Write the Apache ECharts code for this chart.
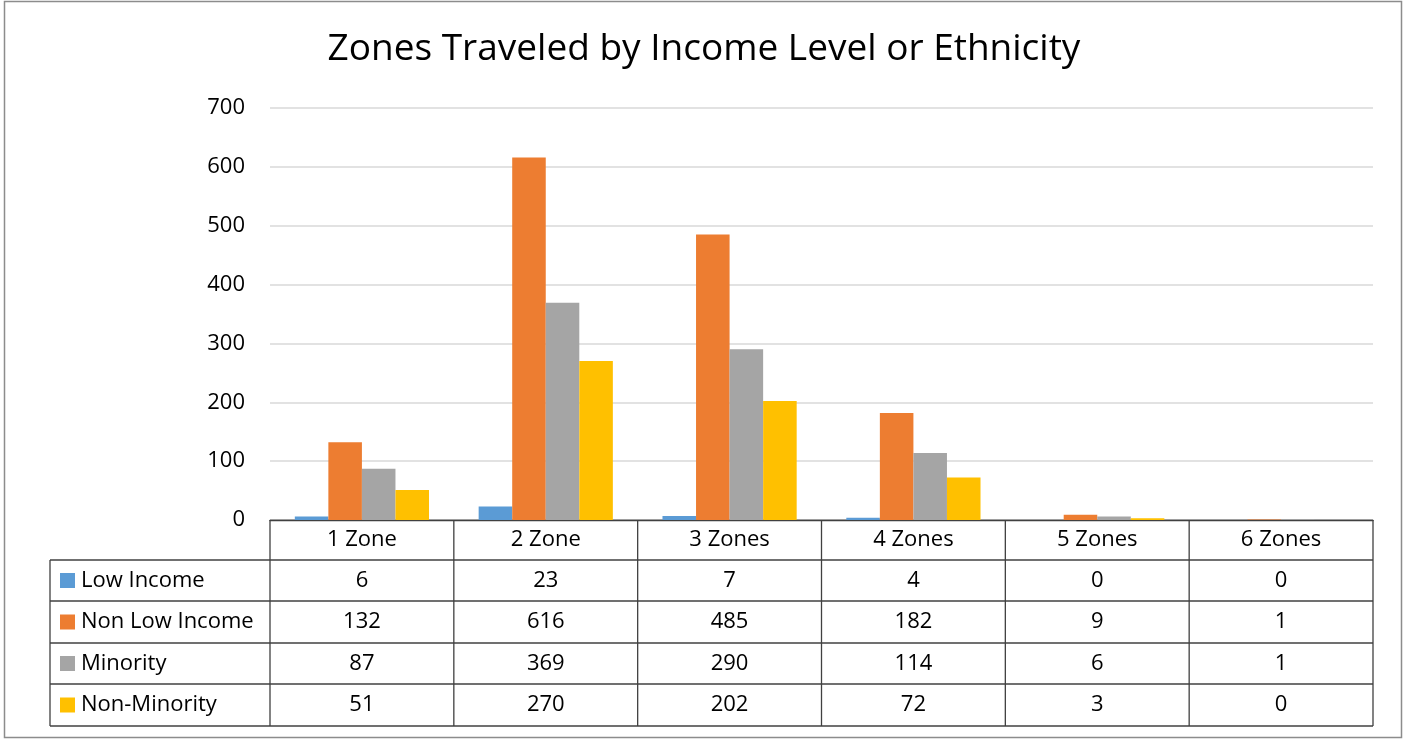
<!DOCTYPE html>
<html><head><meta charset="utf-8">
<script src="https://cdn.jsdelivr.net/npm/echarts@6/dist/echarts.min.js"></script>
<style>html,body{margin:0;padding:0;background:#fff}#c{width:1406px;height:740px}</style>
</head><body><div id="c"></div>
<script>
const categories = ['1 Zone','2 Zone','3 Zones','4 Zones','5 Zones','6 Zones'];
const seriesNames = ['Low Income','Non Low Income','Minority','Non-Minority'];
const lowIncome = [6,23,7,4,0,0];
const nonLowIncome = [132,616,485,182,9,1];
const minority = [87,369,290,114,6,1];
const nonMinority = [51,270,202,72,3,0];
const yTicks = [0,100,200,300,400,500,600,700];
const colors = ['#5B9BD5','#ED7D31','#A5A5A5','#FFC000'];

const FONT = '"Open Sans", "Liberation Sans", sans-serif';
const L = 270, R = 1373, T = 108, B = 520;
const rows = [520,560,601,643,684,726];
const tableLeft = 50;
const allData = [lowIncome, nonLowIncome, minority, nonMinority];
const lineColor = '#404040';

const chart = echarts.init(document.getElementById('c'));
const graphic = [];
graphic.push({type:'rect', shape:{x:4.5,y:1.5,width:1397,height:736}, style:{fill:'none',stroke:'#8c8c8c',lineWidth:1.5}, silent:true});
const cw = (R - L) / categories.length;
graphic.push({type:'line', shape:{x1:L,y1:rows[0],x2:R,y2:rows[0]}, style:{stroke:lineColor,lineWidth:1.3}});
for (let r = 1; r < rows.length; r++) {
  graphic.push({type:'line', shape:{x1:tableLeft,y1:rows[r],x2:R,y2:rows[r]}, style:{stroke:lineColor,lineWidth:1.3}});
}
graphic.push({type:'line', shape:{x1:tableLeft,y1:rows[1],x2:tableLeft,y2:rows[5]}, style:{stroke:lineColor,lineWidth:1.3}});
for (let i = 0; i <= categories.length; i++) {
  const x = L + i*cw;
  graphic.push({type:'line', shape:{x1:x,y1:rows[0],x2:x,y2:rows[5]}, style:{stroke:lineColor,lineWidth:1.3}});
}
seriesNames.forEach((name, s) => {
  const yc = (rows[s+1] + rows[s+2]) / 2;
  graphic.push({type:'rect', shape:{x:60,y:yc-7.5,width:15,height:15}, style:{fill:colors[s]}});
  graphic.push({type:'text', x:81, y:yc, style:{text:name, font:'22px '+FONT, fill:'#000', verticalAlign:'middle', align:'left'}});
  allData[s].forEach((v, i) => {
    graphic.push({type:'text', x:L+(i+0.5)*cw, y:yc, style:{text:String(v), font:'22px '+FONT, fill:'#000', verticalAlign:'middle', align:'center'}});
  });
});

chart.setOption({
  animation:false,
  title:{text:'Zones Traveled by Income Level or Ethnicity', left:699, top:26, textAlign:'center',
    textStyle:{fontFamily:FONT, fontSize:37, fontWeight:'normal', color:'#000'}},
  grid:{left:L, right:1406-R, top:T, bottom:740-B},
  xAxis:{type:'category', data:categories,
    axisLine:{lineStyle:{color:lineColor,width:1.3}}, axisTick:{show:false},
    axisLabel:{fontFamily:FONT, fontSize:22, color:'#000', margin:9}},
  yAxis:{type:'value', min:0, max:700, interval:100,
    axisLine:{show:false}, axisTick:{show:false},
    splitLine:{lineStyle:{color:'#d9d9d9', width:1.5}},
    axisLabel:{fontFamily:FONT, fontSize:22, color:'#000', margin:25}},
  series: seriesNames.map((n, s) => ({
    name:n, type:'bar', data:allData[s], itemStyle:{color:colors[s]},
    barGap:'0%', barCategoryGap:'27%'
  })),
  graphic: graphic
});
</script></body></html>
